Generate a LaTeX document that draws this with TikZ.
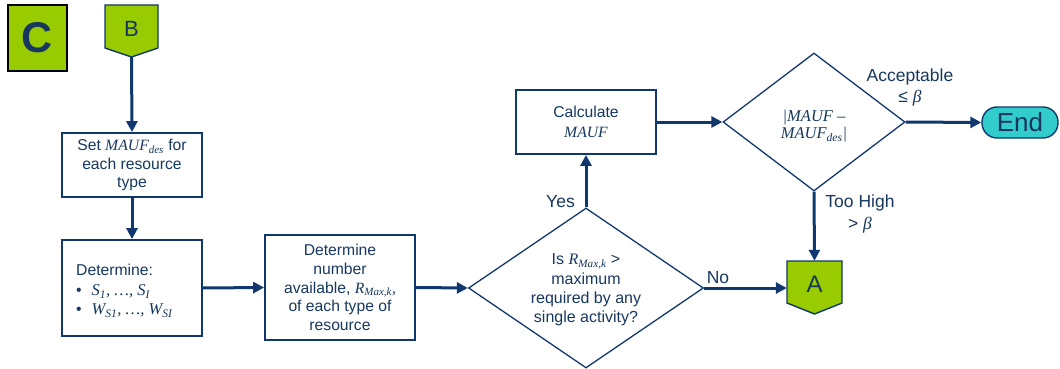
\documentclass[tikz,border=0pt]{standalone}
\usepackage{fontspec}
\setmainfont{Liberation Sans}
\newfontfamily\tnr{Liberation Serif}
\usetikzlibrary{arrows.meta,shapes.geometric}
\definecolor{navy}{HTML}{10386E}
\definecolor{txt}{HTML}{17375E}
\definecolor{lgreen}{HTML}{99CC00}
\definecolor{tealc}{HTML}{33CCCC}
\newcommand{\vi}[1]{{\tnr\itshape #1}}
\newcommand{\vsub}[1]{\textsubscript{\tnr\itshape #1}}
\begin{document}
\begin{tikzpicture}[x=1pt,y=-1pt,
  every node/.style={text=txt, font=\fontsize{15.7}{18.7}\selectfont},
  box/.style={draw=navy, line width=1.8pt, rectangle, align=center, inner sep=0pt},
  dia/.style={draw=navy, line width=1.3pt, diamond, inner sep=0pt},
  conn/.style={draw=navy, line width=3pt, -{Triangle[length=11pt,width=11pt]}},
  lbl/.style={align=center, inner sep=0pt, font=\fontsize{17.5}{20}\selectfont},
  offpage/.style={fill=lgreen, draw=navy, line width=1.4pt, line join=miter}]
\useasboundingbox (0,0) rectangle (1060,369);

% C label box
\node[draw=black, line width=1.3pt, fill=lgreen, minimum width=59, minimum height=66,
      font=\fontsize{43}{43}\selectfont\bfseries] (C) at (37.5,38) {C};

% B off-page connector
\filldraw[offpage] (105,5) -- (158,5) -- (158,48) -- (131.5,57) -- (105,48) -- cycle;
\node[font=\fontsize{22}{22}\selectfont] (B) at (131.5,28.5) {B};
\coordinate (Bp) at (131.5,57);

% boxes
\node[box, minimum width=140, minimum height=64] (set) at (132,165)
  {Set \vi{MAUF}\vsub{des} for\\each resource\\type};
\node[box, minimum width=140, minimum height=96] (det) at (132,288) {};
\node[anchor=north west, align=left, inner sep=0pt] (dett) at (76,263.5)
  {Determine:\\[2pt]\makebox[15.5pt][l]{\textbullet}\vi{\fontsize{16.5}{18.7}\selectfont S\textsubscript{1}, \dots, S\textsubscript{I}}\\
   \makebox[15.5pt][l]{\textbullet}\vi{\fontsize{16.5}{18.7}\selectfont W\textsubscript{S1}, \dots, W\textsubscript{SI}}};
\node[box, minimum width=150, minimum height=105] (num) at (340,287.5)
  {Determine\\number\\available, \vi{R}\vsub{Max,k}\vi{,}\\of each type of\\resource};

% decision 1
\node[dia, minimum width=235, minimum height=160] (d1) at (586,288) {};
\node[align=center, inner sep=0pt, font=\fontsize{16}{19.3}\selectfont] (d1t) at (586,290)
  {Is \vi{R}\vsub{Max,k} >\\maximum\\required by any\\single activity?};

% calculate
\node[box, minimum width=140, minimum height=64] (calc) at (586,122)
  {Calculate\\[1pt]\vi{MAUF}};

% decision 2
\node[dia, minimum width=182, minimum height=138] (d2) at (814,122) {};
\node[align=center, inner sep=0pt, font=\fontsize{16.5}{17}\selectfont] (d2t) at (814,126)
  {\vi{|MAUF –}\\\vi{MAUF}\vsub{des}\vi{|}};

% End terminator
\node[draw=navy, fill=tealc, rounded corners=15pt, minimum width=76, minimum height=31,
      line width=1.4pt, font=\fontsize{26}{26}\selectfont] (End) at (1020,122.5) {End};

% A off-page connector
\filldraw[offpage] (787,261) -- (842,261) -- (842,303) -- (814.5,314) -- (787,303) -- cycle;
\node[minimum width=55, minimum height=46, inner sep=0pt, font=\fontsize{24}{24}\selectfont] (A) at (814.5,284) {A};

% connectors
\draw[conn] (Bp) -- (set.north);
\draw[conn] (set.south) -- (det.north);
\draw[conn] (det.east) -- (num.west);
\draw[conn] (num.east) -- (d1.west);
\draw[conn] (d1.north) -- (calc.south);
\draw[conn] (calc.east) -- (d2.west);
\draw[conn] (d2.east) -- (End.west);
\draw[conn] (d2.south) -- (A.north);
\draw[conn] (d1.east) -- (d1.east -| A.west);

% labels
\node[lbl] (yes) at (560.5,202) {Yes};
\node[lbl] (no) at (718,278) {No};
\node[lbl] (acc) at (910,87.5) {Acceptable\\[1pt]≤ \vi{β}};
\node[lbl] (th) at (860,214) {Too High\\[2pt]> \vi{β}};
\end{tikzpicture}
\end{document}
